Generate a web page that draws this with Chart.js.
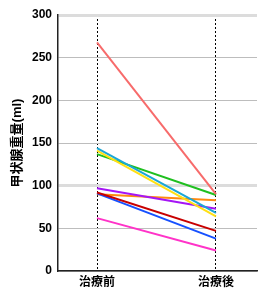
<!DOCTYPE html>
<html>
<head>
<meta charset="utf-8">
<script src="https://cdn.jsdelivr.net/npm/chart.js@4"></script>
<style>
    html, body { margin: 0; padding: 0; background: #fff; }
    #wrap { width: 267px; height: 299px; }
</style>
</head>
<body>
<div id="wrap"><canvas id="thyroidChart"></canvas></div>
<script>
// ===== データ =====
const categories = ['治療前', '治療後'];
const yTicks = [0, 50, 100, 150, 200, 250, 300];
const yTitle = '甲状腺重量(ml)';

const patientA = [268, 90];   // salmon
const patientB = [144, 68];   // cyan
const patientC = [141, 64];   // yellow
const patientD = [137, 89];   // green
const patientE = [97, 73];    // purple
const patientF = [92, 47];    // dark red
const patientG = [91, 38];    // blue
const patientH = [90, 83];    // orange
const patientI = [62, 24];    // pink

const seriesList = [patientA, patientB, patientC, patientD, patientE, patientF, patientG, patientH, patientI];
const seriesColors = ['#f76b6b', '#1aa7d6', '#ffe014', '#1fbf1f', '#a515f5', '#c80000', '#1650ff', '#ff8a10', '#ff33c8'];

const font = { family: 'Liberation Sans, Arial, Noto Sans CJK JP, sans-serif', size: 12, weight: 'bold' };

document.addEventListener('DOMContentLoaded', () => {
    const ctx = document.getElementById('thyroidChart').getContext('2d');
    new Chart(ctx, {
        type: 'line',
        data: {
            datasets: seriesList.map((vals, i) => ({
                data: vals.map((v, j) => ({ x: j, y: v })),
                borderColor: seriesColors[i],
                borderWidth: 2,
                pointRadius: 0,
                fill: false
            }))
        },
        options: {
            responsive: true,
            maintainAspectRatio: false,
            animation: false,
            layout: { padding: { top: 15, right: 10, left: 0, bottom: 0 } },
            plugins: { legend: { display: false }, tooltip: { enabled: false } },
            scales: {
                x: {
                    type: 'linear',
                    min: -0.328,
                    max: 1.345,
                    afterBuildTicks: (scale) => { scale.ticks = [{ value: 0 }, { value: 1 }]; },
                    afterFit: (scale) => { scale.height = 28; },
                    ticks: {
                        color: '#000',
                        font: font,
                        padding: 4,
                        callback: (v) => categories[v]
                    },
                    grid: { color: '#000', lineWidth: 1, drawTicks: false },
                    border: { color: '#222', width: 1.5, dash: [2, 2] }
                },
                y: {
                    min: 0,
                    max: 300,
                    afterBuildTicks: (scale) => { scale.ticks = yTicks.map(v => ({ value: v })); },
                    afterFit: (scale) => { scale.width = 58; },
                    ticks: { color: '#000', font: font, padding: 6 },
                    title: { display: true, text: yTitle, color: '#000', font: { ...font, size: 13 }, padding: { top: 10, bottom: 0 } },
                    grid: {
                        drawTicks: false,
                        color: (c) => (c.tick && (c.tick.value === 300 || c.tick.value === 100)) ? '#dcdcdc' : '#bdbdbd',
                        lineWidth: (c) => (c.tick && (c.tick.value === 300 || c.tick.value === 100)) ? 3 : 1
                    },
                    border: { color: '#222', width: 1.5 }
                }
            }
        }
    });
});
</script>
</body>
</html>
